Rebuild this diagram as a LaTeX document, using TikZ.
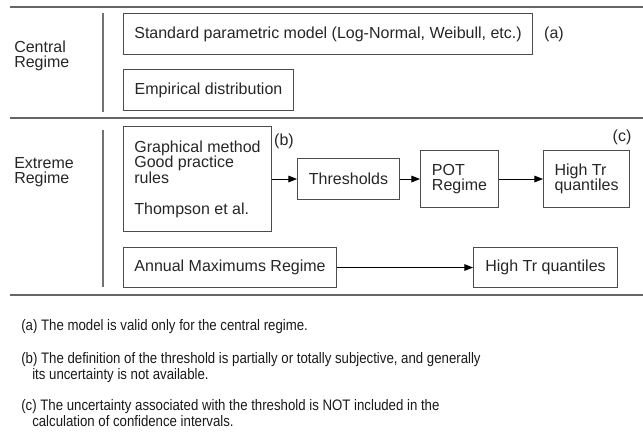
\documentclass[tikz,border=0pt]{standalone}
\usepackage{fontspec}
\setmainfont{Liberation Sans}
\newfontfamily\notefont[FakeStretch=0.87]{Liberation Sans}
\usetikzlibrary{arrows.meta}
\newcommand{\mainsz}{\fontsize{12}{11.6}\selectfont}
\newcommand{\notesz}{\notefont\fontsize{11.4}{10.5}\selectfont}
\newcommand{\twoline}[2]{\vtop{\hbox{#1}\hbox{\hspace*{8.25pt}#2}}}
\begin{document}
\begin{tikzpicture}[x=0.75pt,y=-0.75pt,
  box/.style={draw=black!70, line width=0.8pt, inner sep=0pt, font=\mainsz, text=black!85, align=center, anchor=north west},
  lbl/.style={inner sep=0pt, font=\mainsz, text=black!85, align=left},
  note/.style={inner sep=0pt, font=\notesz, text=black!90, anchor=base west},
  sep/.style={draw=black!60, line width=1.5pt},
  vsep/.style={draw=black!55, line width=1.1pt},
  arr/.style={draw=black, line width=0.75pt, -{Triangle[length=6.5pt,width=5pt]}}]
\useasboundingbox (0,0) rectangle (643,441);

% separators
\coordinate (s1a) at (10,7);   \coordinate (s1b) at (643,7);
\coordinate (s2a) at (10,118); \coordinate (s2b) at (643,118);
\coordinate (s3a) at (10,295); \coordinate (s3b) at (643,295);
\draw[sep] (s1a) -- (s1b);
\draw[sep] (s2a) -- (s2b);
\draw[sep] (s3a) -- (s3b);
\coordinate (v1a) at (103,13);  \coordinate (v1b) at (103,112);
\coordinate (v2a) at (103,130); \coordinate (v2b) at (103,287);
\draw[vsep] (v1a) -- (v1b);
\draw[vsep] (v2a) -- (v2b);

% regime labels
\node[lbl, anchor=west] (central) at (14,56) {Central\\Regime};
\node[lbl, anchor=west] (extreme) at (14,172) {Extreme\\Regime};

% central regime boxes
\node[box, minimum width=409*0.75pt, minimum height=41*0.75pt] (std) at (123,13)
  {Standard parametric model (Log-Normal, Weibull, etc.)};
\node[lbl] (la) at (554,34) {(a)};
\node[box, minimum width=170*0.75pt, minimum height=41*0.75pt] (emp) at (123,69)
  {Empirical distribution};

% extreme regime boxes
\node[box, align=left, minimum width=148*0.75pt, minimum height=105*0.75pt] (graph) at (123,126)
  {Graphical method\\Good practice\\rules\\[11.6pt]Thompson et al.};
\node[lbl] (lb) at (284,141) {(b)};
\node[box, minimum width=102*0.75pt, minimum height=41*0.75pt] (thr) at (297,158) {Thresholds};
\node[box, align=left, minimum width=78*0.75pt, minimum height=57*0.75pt] (pot) at (420,150) {POT\\Regime};
\node[box, align=left, minimum width=86*0.75pt, minimum height=57*0.75pt] (hq1) at (543,150) {High Tr\\quantiles};
\node[lbl] (lc) at (622,137) {(c)};
\node[box, minimum width=213*0.75pt, minimum height=40*0.75pt] (ann) at (123,247) {Annual Maximums Regime};
\node[box, minimum width=144*0.75pt, minimum height=40*0.75pt] (hq2) at (473,247) {High Tr quantiles};

\draw[arr] (graph.east |- thr.west) -- (thr.west);
\draw[arr] (thr.east) -- (pot.west);
\draw[arr] (pot.east) -- (hq1.west);
\draw[arr] (ann.east) -- (hq2.west);

% notes
\node[note] (na) at (21,331) {(a) The model is valid only for the central regime.};
\node[note] (nb) at (21,364) {\twoline{(b) The definition of the threshold is partially or totally subjective, and generally}{its uncertainty is not available.}};
\node[note] (nc) at (21,411) {\twoline{(c) The uncertainty associated with the threshold is NOT included in the}{calculation of confidence intervals.}};
\end{tikzpicture}
\end{document}
